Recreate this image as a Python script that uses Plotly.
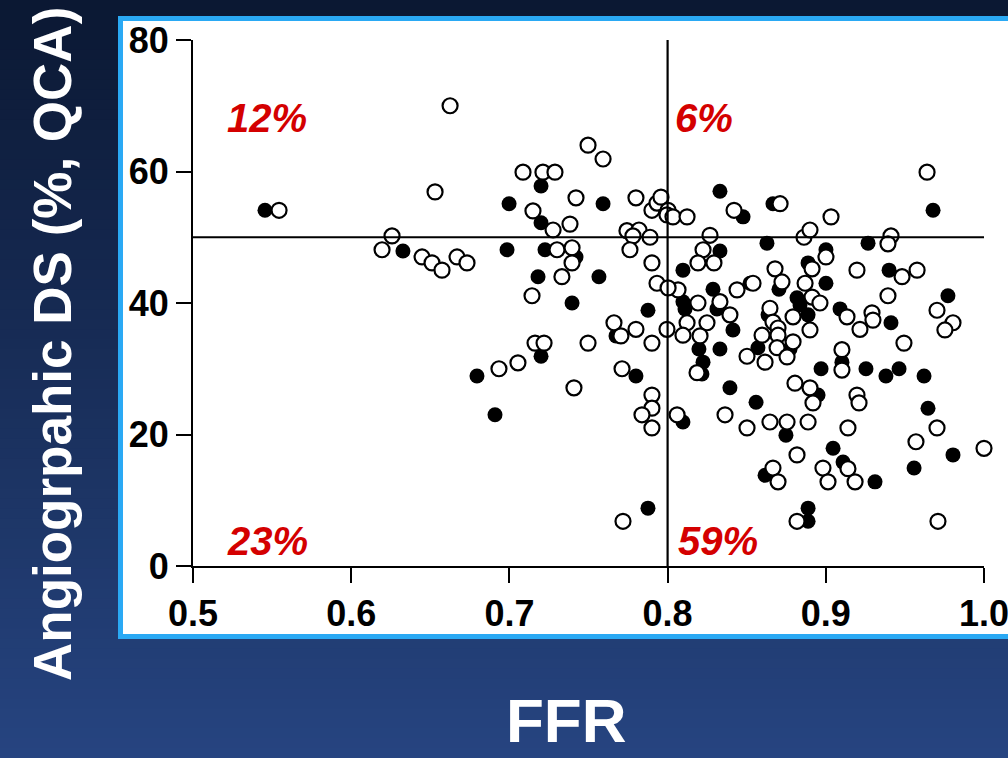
import plotly.graph_objects as go

# ---- data -------------------------------------------------------------
# open circles (FFR, diameter stenosis %)
open_x = [0.5544, 0.6195, 0.6258, 0.6448, 0.6511, 0.6574, 0.6669, 0.6732, 0.653, 0.6625,
          0.7086, 0.7212, 0.7288, 0.7497, 0.7592, 0.7149, 0.7276, 0.7421, 0.7383, 0.780,
          0.7743, 0.7819, 0.7781, 0.7889, 0.7762, 0.7901, 0.7933, 0.7958, 0.8003, 0.7996,
          0.8034, 0.8123, 0.7301, 0.7396, 0.7396, 0.7332, 0.7901, 0.7933, 0.7143, 0.7661,
          0.7705, 0.780, 0.7901, 0.7996, 0.7162, 0.7219, 0.7497, 0.7054, 0.6934, 0.7408,
          0.7712, 0.7901, 0.7901, 0.7838, 0.7901, 0.7718, 0.964, 0.842, 0.8711, 0.9033,
          0.8268, 0.8862, 0.890, 0.9412, 0.9393, 0.8224, 0.8192, 0.8293, 0.9001, 0.8913,
          0.9197, 0.9482, 0.9577, 0.8679, 0.8723, 0.8869, 0.854, 0.8439, 0.8066, 0.9393,
          0.8192, 0.8331, 0.8394, 0.8123, 0.8249, 0.8097, 0.8205, 0.8502, 0.8616, 0.8597,
          0.8647, 0.8666, 0.8698, 0.8698, 0.8692, 0.8755, 0.8793, 0.8793, 0.8913, 0.8963,
          0.890, 0.9134, 0.9216, 0.9292, 0.9298, 0.9703, 0.9804, 0.9753, 0.9494, 0.9102,
          0.9102, 0.8805, 0.890, 0.8919, 0.9197, 0.921, 0.8363, 0.8502, 0.8647, 0.8755,
          0.8888, 0.806, 0.914, 0.9703, 0.957, 1.0, 0.8818, 0.914, 0.8982, 0.9014,
          0.9185, 0.8666, 0.8698, 0.8818, 0.9709, 0.8186, 0.8003]
open_y = [54.1, 48.1, 50.2, 47.0, 46.1, 45.0, 47.0, 46.1, 56.9, 70.0,
          59.9, 59.9, 59.9, 64.0, 61.9, 54.0, 51.1, 56.0, 52.0, 56.0,
          51.0, 51.1, 50.2, 50.0, 48.1, 54.1, 55.2, 56.1, 54.1, 53.4,
          53.1, 53.1, 48.1, 48.4, 46.1, 44.0, 46.1, 43.0, 41.1, 37.0,
          35.0, 36.0, 33.9, 36.0, 33.9, 33.9, 33.9, 30.9, 30.0, 27.1,
          30.0, 26.0, 24.0, 23.0, 21.0, 6.8, 59.9, 54.1, 55.1, 53.1,
          50.3, 50.0, 51.1, 50.2, 49.0, 48.1, 46.1, 46.1, 47.0, 45.2,
          45.0, 44.0, 45.0, 45.2, 43.2, 43.0, 43.0, 42.0, 42.0, 41.1,
          40.0, 40.2, 38.2, 37.0, 37.0, 35.1, 35.0, 31.9, 31.0, 35.1,
          39.2, 37.1, 36.2, 35.1, 33.2, 31.8, 34.1, 37.9, 40.9, 40.0,
          35.9, 37.9, 36.0, 38.5, 37.4, 38.9, 37.0, 35.9, 33.9, 32.9,
          29.8, 27.8, 27.1, 24.8, 26.0, 24.8, 23.0, 21.0, 21.9, 21.9,
          21.9, 23.0, 21.0, 21.0, 18.9, 17.9, 16.9, 14.8, 14.9, 12.8,
          12.8, 14.9, 12.8, 6.8, 6.8, 29.4, 42.3]

# filled circles (FFR, diameter stenosis %)
filled_x = [0.5455, 0.6327, 0.720, 0.6998, 0.720, 0.7592, 0.6985, 0.7225, 0.7421, 0.7181,
            0.7566, 0.7396, 0.7876, 0.7674, 0.720, 0.6795, 0.6909, 0.780, 0.7876, 0.9678,
            0.8331, 0.8477, 0.8666, 0.8628, 0.9267, 0.8331, 0.8097, 0.9001, 0.8888, 0.940,
            0.9001, 0.8521, 0.8287, 0.9772, 0.8704, 0.8097, 0.811, 0.8312, 0.8413, 0.8198,
            0.8331, 0.8224, 0.8217, 0.8571, 0.8635, 0.8774, 0.8818, 0.8837, 0.8888, 0.909,
            0.9412, 0.9102, 0.897, 0.9254, 0.938, 0.9463, 0.9621, 0.8951, 0.8394, 0.8559,
            0.8748, 0.8097, 0.9646, 0.9804, 0.9558, 0.9046, 0.9109, 0.9311, 0.8616, 0.8888,
            0.8888]
filled_y = [54.1, 47.9, 57.8, 55.1, 52.2, 55.1, 48.1, 48.1, 47.0, 44.0,
            44.0, 40.0, 38.9, 35.0, 31.9, 28.9, 23.0, 28.9, 8.8, 54.1,
            57.0, 53.1, 55.1, 49.1, 49.1, 47.9, 45.0, 48.1, 46.1, 45.0,
            43.0, 43.0, 42.1, 41.1, 42.1, 40.2, 39.1, 39.1, 35.9, 33.0,
            33.0, 31.0, 29.2, 33.2, 38.2, 33.0, 40.8, 39.7, 38.2, 39.1,
            37.0, 31.0, 30.0, 30.0, 28.9, 30.0, 28.9, 26.0, 27.1, 24.9,
            19.9, 21.9, 24.0, 16.9, 14.9, 17.9, 15.8, 12.8, 13.8, 8.8,
            6.8]

x_ticks = [0.5, 0.6, 0.7, 0.8, 0.9, 1.0]
x_tick_labels = ["0.5", "0.6", "0.7", "0.8", "0.9", "1.0"]
y_ticks = [0, 20, 40, 60, 80]

ffr_cutoff = 0.8
ds_cutoff = 50

quad_labels = ["12%", "6%", "23%", "59%"]
quad_x = [0.5205, 0.8034, 0.5205, 0.8053]
quad_y = [68.2, 68.2, 3.8, 3.8]

# ---- geometry helpers ---------------------------------------------------
W, H = 1008, 758
L, R, T, B = 193, 24, 40, 192
PW = W - L - R
PH = H - T - B


def px(x):
    return (x - L) / PW


def py(y):
    return (H - B - y) / PH


FONT = "Liberation Sans, Arial, sans-serif"

fig = go.Figure()

fig.add_trace(go.Scatter(
    x=filled_x, y=filled_y, mode="markers", cliponaxis=False,
    marker=dict(symbol="circle", size=15, color="black", line=dict(width=0)),
    showlegend=False, hoverinfo="x+y"))

fig.add_trace(go.Scatter(
    x=open_x, y=open_y, mode="markers", cliponaxis=False,
    marker=dict(symbol="circle", size=15, color="white",
                line=dict(width=2.2, color="black")),
    showlegend=False, hoverinfo="x+y"))

shapes = []

# vertical gradient background
top = (11, 24, 51)
bot = (38, 68, 128)
n = 76
for i in range(n):
    t = i / (n - 1)
    c = tuple(round(top[k] + (bot[k] - top[k]) * t) for k in range(3))
    y0 = H * i / n
    y1 = H * (i + 1) / n + 1
    shapes.append(dict(type="rect", xref="paper", yref="paper", layer="below",
                       x0=px(-2), x1=px(W + 2), y0=py(y1), y1=py(y0),
                       fillcolor="rgb(%d,%d,%d)" % c, line=dict(width=0)))

# white chart panel with light blue frame
shapes.append(dict(type="rect", xref="paper", yref="paper", layer="below",
                   x0=px(120.5), x1=px(W + 10), y0=py(636.5), y1=py(18.5),
                   fillcolor="white", line=dict(color="#2aa9f4", width=5)))

# cut-off lines
shapes.append(dict(type="line", xref="x", yref="y", layer="above",
                   x0=0.5, x1=1.0, y0=ds_cutoff, y1=ds_cutoff,
                   line=dict(color="black", width=2.2)))
shapes.append(dict(type="line", xref="x", yref="y", layer="above",
                   x0=ffr_cutoff, x1=ffr_cutoff, y0=0, y1=80,
                   line=dict(color="black", width=2.2)))

annotations = []
for lab, qx, qy in zip(quad_labels, quad_x, quad_y):
    annotations.append(dict(x=qx, y=qy, xref="x", yref="y", text="<b><i>%s</i></b>" % lab,
                            showarrow=False, xanchor="left", yanchor="middle",
                            font=dict(family=FONT, size=40, color="#d40000")))

annotations.append(dict(x=px(52), y=py(344), xref="paper", yref="paper",
                        text="<b>Angiogrpahic DS (%, QCA)</b>", textangle=-90,
                        showarrow=False, xanchor="center", yanchor="middle",
                        font=dict(family=FONT, size=53, color="white")))
annotations.append(dict(x=px(566), y=py(757), xref="paper", yref="paper",
                        text="<b>FFR</b>", showarrow=False,
                        xanchor="center", yanchor="bottom",
                        font=dict(family=FONT, size=62, color="white")))

fig.update_layout(
    width=W, height=H,
    margin=dict(l=L, r=R, t=T, b=B, pad=0),
    paper_bgcolor="rgb(11,24,51)",
    plot_bgcolor="rgba(0,0,0,0)",
    shapes=shapes,
    annotations=annotations,
    xaxis=dict(range=[0.5, 1.0], tickvals=x_ticks, ticktext=x_tick_labels,
               showgrid=False, zeroline=False, showline=True, linecolor="black",
               linewidth=2, ticks="outside", ticklen=15, tickwidth=2, tickcolor="black",
               ticklabeloverflow="allow", automargin=False,
               tickfont=dict(family=FONT, size=36, color="black", weight="bold")),
    yaxis=dict(range=[0, 80], tickvals=y_ticks,
               showgrid=False, zeroline=False, showline=True, linecolor="black",
               linewidth=2, ticks="outside", ticklen=15, tickwidth=2, tickcolor="black",
               automargin=False,
               tickfont=dict(family=FONT, size=36, color="black", weight="bold")),
)

fig.write_html("out.html")
